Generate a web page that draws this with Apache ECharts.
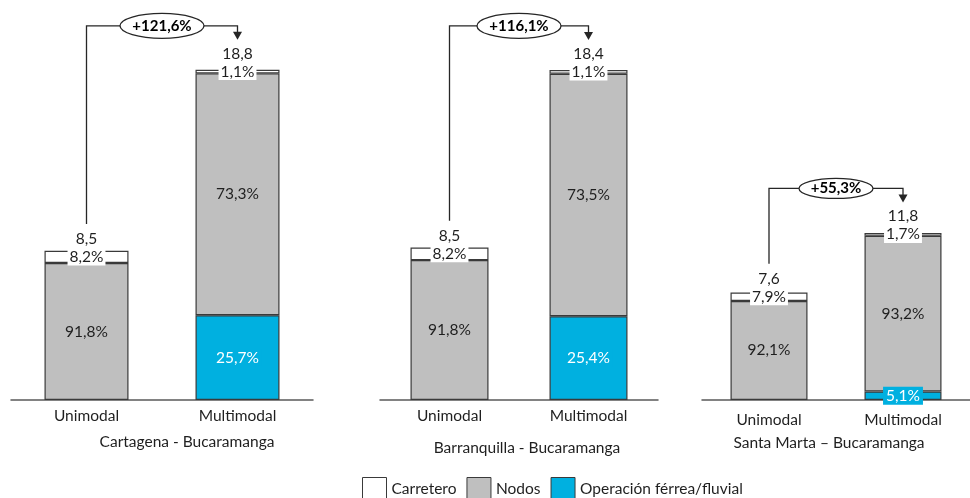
<!DOCTYPE html>
<html>
<head>
<meta charset="utf-8">
<script src="https://cdn.jsdelivr.net/npm/echarts@6/dist/echarts.min.js"></script>
<style>
  html, body { margin: 0; padding: 0; background: #fff; }
  #chart { width: 970px; height: 498px; }
</style>
</head>
<body>
<div id="chart"></div>
<script>
// Route cost comparison: unimodal vs multimodal, split by cost component
const categories = ['Unimodal', 'Multimodal'];
const routes = ['Cartagena - Bucaramanga', 'Barranquilla - Bucaramanga', 'Santa Marta – Bucaramanga'];
const totals = [[8.5, 18.8], [8.5, 18.4], [7.6, 11.8]];
const pctCarretero = [[8.2, 1.1], [8.2, 1.1], [7.9, 1.7]];
const pctNodos = [[91.8, 73.3], [91.8, 73.5], [92.1, 93.2]];
const pctFerrea = [[0, 25.7], [0, 25.4], [0, 5.1]];
const growth = ['+121,6%', '+116,1%', '+55,3%'];
const seriesNames = ['Carretero', 'Nodos', 'Operación férrea/fluvial'];

const FONT = 'Lato';
const FS = 15.5;
const TEXT = '#1f1f1f';
const EDGE = '#3a3a3a';
const colors = { carretero: '#ffffff', nodos: '#bfbfbf', ferrea: '#00b0e0' };

// panel layout (grid boxes, bar widths)
const panels = [
  { left: 11, width: 302, top: 49, height: 351, barWidth: 84, labelMargin: 8, sub: [187, 442] },
  { left: 380, width: 278, top: 41.4, height: 358.6, barWidth: 78, labelMargin: 8, sub: [527, 448] },
  { left: 702, width: 279, top: 117, height: 283, barWidth: 77, labelMargin: 12, sub: [829, 443] }
];

const fmt = v => v.toFixed(1).replace('.', ',');

const grid = [], xAxis = [], yAxis = [], series = [];
panels.forEach((p, i) => {
  grid.push({ left: p.left, width: p.width, top: p.top, height: p.height });
  xAxis.push({
    type: 'category', gridIndex: i, data: categories,
    axisLine: { lineStyle: { color: '#595959', width: 1.5 } },
    axisTick: { show: false },
    axisLabel: { color: TEXT, fontFamily: FONT, fontSize: FS, margin: p.labelMargin }
  });
  yAxis.push({ type: 'value', gridIndex: i, min: 0, max: 20, show: false, splitLine: { show: false } });

  const seg = pcts => pcts.map((pc, j) => pc > 0 ? totals[i][j] * pc / 100 : '-');
  const base = {
    type: 'bar', xAxisIndex: i, yAxisIndex: i, stack: 'r' + i,
    barWidth: p.barWidth, animation: false
  };

  series.push(Object.assign({}, base, {
    name: seriesNames[2], data: seg(pctFerrea[i]),
    itemStyle: { color: colors.ferrea, borderColor: EDGE, borderWidth: 1.2 },
    label: {
      show: true, position: 'inside', color: '#fff', fontFamily: FONT, fontSize: FS,
      backgroundColor: colors.ferrea, padding: [1, 3],
      formatter: o => fmt(pctFerrea[i][o.dataIndex]) + '%'
    }
  }));
  series.push(Object.assign({}, base, {
    name: seriesNames[1], data: seg(pctNodos[i]),
    itemStyle: { color: colors.nodos, borderColor: EDGE, borderWidth: 1.2 },
    label: {
      show: true, position: 'inside', color: TEXT, fontFamily: FONT, fontSize: FS,
      formatter: o => fmt(pctNodos[i][o.dataIndex]) + '%'
    }
  }));
  series.push(Object.assign({}, base, {
    name: seriesNames[0], data: seg(pctCarretero[i]),
    itemStyle: { color: colors.carretero, borderColor: EDGE, borderWidth: 1.2 },
    label: {
      show: true, position: 'inside', offset: [0, -9.5],
      formatter: o => '{t|' + fmt(totals[i][o.dataIndex]) + '}\n{p|' + fmt(pctCarretero[i][o.dataIndex]) + '%}',
      rich: {
        t: { color: TEXT, fontFamily: FONT, fontSize: FS, lineHeight: 19, align: 'center' },
        p: { color: TEXT, fontFamily: FONT, fontSize: FS, lineHeight: 17, height: 17,
             backgroundColor: '#fff', padding: [0, 2], align: 'center' }
      }
    }
  }));
});

const chart = echarts.init(document.getElementById('chart'), null, { renderer: 'canvas' });
chart.setOption({
  backgroundColor: '#fff',
  animation: false,
  grid, xAxis, yAxis, series,
  legend: {
    data: seriesNames, left: 362, top: 477, padding: 0,
    itemWidth: 24, itemHeight: 23, itemGap: 10,
    icon: 'rect', selectedMode: false,
    itemStyle: { borderColor: EDGE, borderWidth: 1 },
    textStyle: { color: TEXT, fontFamily: FONT, fontSize: FS, padding: [0, 0, 5, 0] }
  }
});

// growth connectors, placed from the bar geometry
const ellipseSize = [[42, 12.5], [42, 12.5], [37, 10]];
const graphics = [];
panels.forEach((p, i) => {
  const toPx = (j, v) => chart.convertToPixel({ xAxisIndex: i, yAxisIndex: i }, [j, v]);
  const pctCenter = j => {
    const top = totals[i][j];
    const seg = top * pctCarretero[i][j] / 100;
    return toPx(j, top - seg / 2);
  };
  const u = pctCenter(0), m = pctCenter(1);
  const xU = u[0], xM = m[0];
  const totU = u[1] - 19, totM = m[1] - 19;
  const tip = totM - 13;
  const lineY = tip - 14;
  graphics.push({
    type: 'polyline', silent: true,
    shape: { points: [[xU, totU - 14], [xU, lineY], [xM, lineY], [xM, tip - 6]] },
    style: { stroke: '#262626', lineWidth: 1.3, fill: null }
  });
  graphics.push({
    type: 'polygon', silent: true,
    shape: { points: [[xM - 4.5, tip - 8], [xM + 4.5, tip - 8], [xM, tip]] },
    style: { fill: '#262626' }
  });
  graphics.push({
    type: 'ellipse', silent: true,
    shape: { cx: (xU + xM) / 2, cy: lineY, rx: ellipseSize[i][0], ry: ellipseSize[i][1] },
    style: { fill: '#fff', stroke: '#262626', lineWidth: 1.3 }
  });
  graphics.push({
    type: 'text', silent: true, x: (xU + xM) / 2, y: lineY,
    style: { text: growth[i], fill: '#000', font: 'bold 15px ' + FONT, textAlign: 'center', textVerticalAlign: 'middle' }
  });
  graphics.push({
    type: 'text', silent: true, x: p.sub[0], y: p.sub[1],
    style: { text: routes[i], fill: TEXT, font: FS + 'px ' + FONT, textAlign: 'center', textVerticalAlign: 'middle' }
  });
});
chart.setOption({ graphic: graphics });
</script>
</body>
</html>
